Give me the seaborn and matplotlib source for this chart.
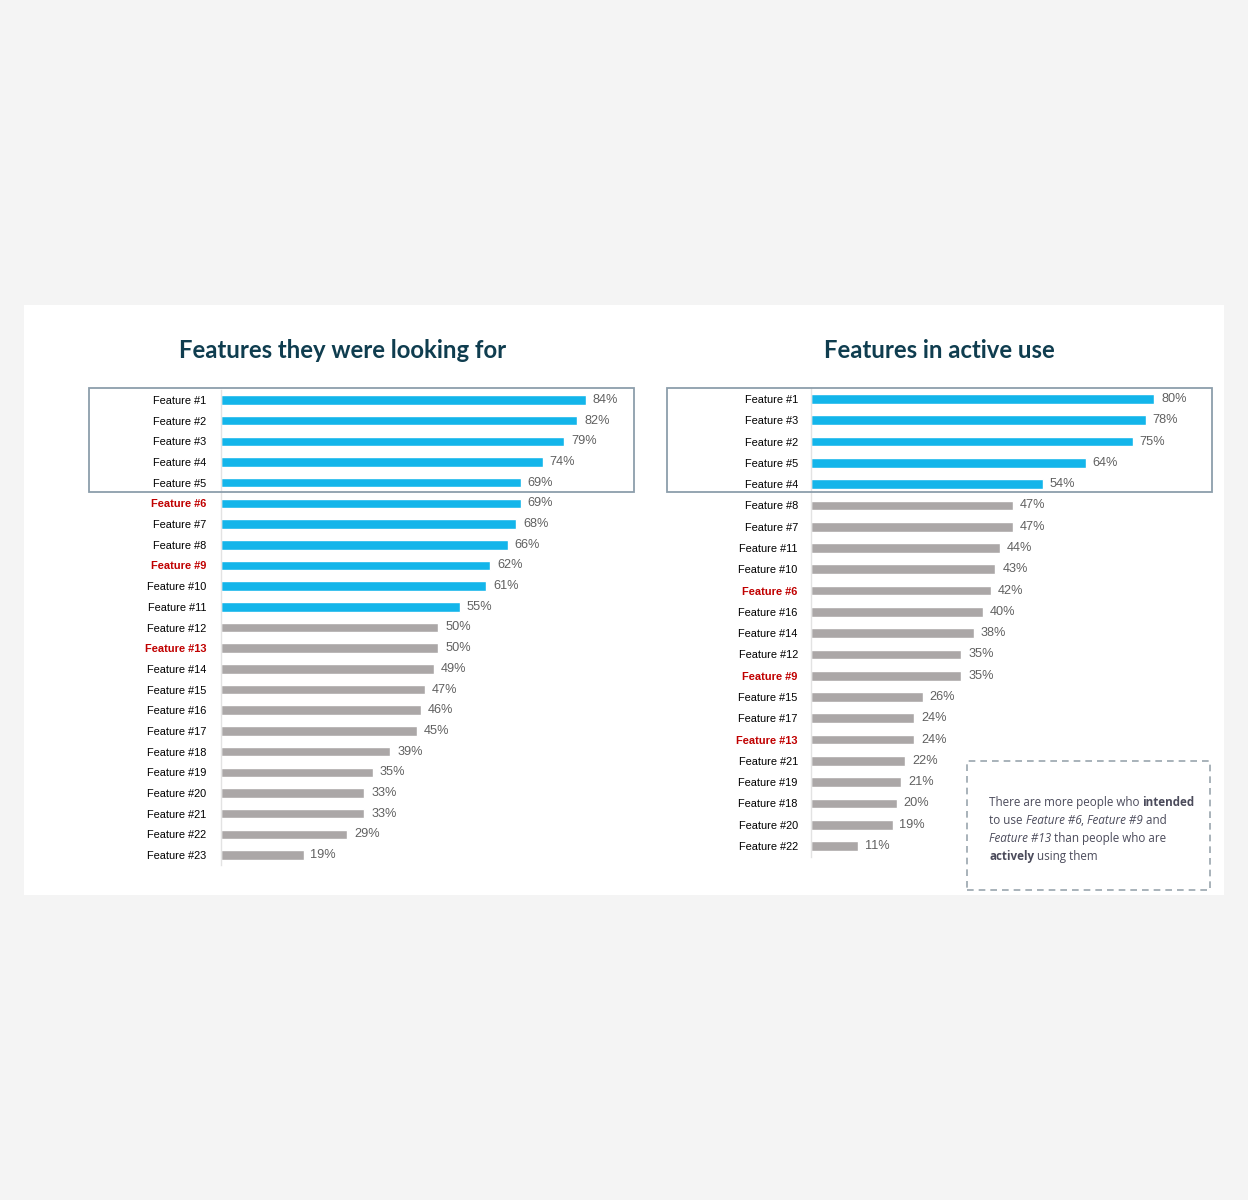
import matplotlib
matplotlib.use("Agg")
import matplotlib.pyplot as plt
import matplotlib.patches as mpatches
import seaborn as sb
import pandas as pd

# ------------------ Datos ------------------
looking_labels = ["Feature #1", "Feature #2", "Feature #3", "Feature #4", "Feature #5",
                  "Feature #6", "Feature #7", "Feature #8", "Feature #9", "Feature #10",
                  "Feature #11", "Feature #12", "Feature #13", "Feature #14", "Feature #15",
                  "Feature #16", "Feature #17", "Feature #18", "Feature #19", "Feature #20",
                  "Feature #21", "Feature #22", "Feature #23"]
looking_values = [84, 82, 79, 74, 69, 69, 68, 66, 62, 61, 55, 50, 50, 49, 47, 46, 45,
                  39, 35, 33, 33, 29, 19]
looking_n_blue = 11

active_labels = ["Feature #1", "Feature #3", "Feature #2", "Feature #5", "Feature #4",
                 "Feature #8", "Feature #7", "Feature #11", "Feature #10", "Feature #6",
                 "Feature #16", "Feature #14", "Feature #12", "Feature #9", "Feature #15",
                 "Feature #17", "Feature #13", "Feature #21", "Feature #19", "Feature #18",
                 "Feature #20", "Feature #22"]
active_values = [80, 78, 75, 64, 54, 47, 47, 44, 43, 42, 40, 38, 35, 35, 26, 24, 24,
                 22, 21, 20, 19, 11]
active_n_blue = 5

highlight = ["Feature #6", "Feature #9", "Feature #13"]

title_left = "Features they were looking for"
title_right = "Features in active use"

# Colores
BLUE = "#13b5ea"
GRAY = "#aba7a7"
RED = "#c00000"
TITLE = "#0f3d4f"
VALUE = "#606060"
BOX = "#8c9eab"

W, H = 1248, 1200


def fx(x):
    return x / W


def fy(y):
    return 1 - y / H


def add_axes_px(fig, left, top, right, bottom):
    return fig.add_axes([fx(left), fy(bottom), (right - left) / W, (bottom - top) / H])


def draw_bars(ax, labels, values, n_blue, pad_pt):
    df = pd.DataFrame({"Feature": labels, "Valor": values})
    colors = [BLUE if i < n_blue else GRAY for i in range(len(labels))]
    sb.barplot(data=df, x="Valor", y="Feature", hue="Feature", palette=colors,
               legend=False, width=0.46, orient="h", saturation=1, ax=ax)
    for c in ax.containers:
        ax.bar_label(c, fmt="%d%%", padding=5, color=VALUE, fontsize=9.2,
                     family="Liberation Sans")
    ax.set_xlim(0, 100)
    ax.set_xlabel("")
    ax.set_ylabel("")
    ax.set_xticks([])
    ax.tick_params(axis="y", length=0, pad=pad_pt)
    for t in ax.get_yticklabels():
        t.set_family("Liberation Sans")
        t.set_fontsize(7.9)
        if t.get_text() in highlight:
            t.set_color(RED)
            t.set_fontweight("bold")
        else:
            t.set_color("black")
    for s in ["top", "right", "bottom"]:
        ax.spines[s].set_visible(False)
    ax.spines["left"].set_color("#e3e3e3")
    ax.spines["left"].set_linewidth(1)
    ax.set_facecolor("none")


def rich_line(fig, x, y, pieces, size=8.4, color="#4b4b5b"):
    renderer = fig.canvas.get_renderer()
    cur = x
    for txt, weight, style in pieces:
        t = fig.text(fx(cur), fy(y), txt, fontsize=size, color=color, family="Open Sans",
                     fontweight=weight, fontstyle=style, va="baseline", ha="left")
        bb = t.get_window_extent(renderer=renderer)
        cur += bb.width


sb.set_style("white")
fig = plt.figure(figsize=(W / 100, H / 100), dpi=100)
fig.patch.set_facecolor("#f4f4f4")

# Panel blanco
fig.patches.append(mpatches.Rectangle((fx(24), fy(895)), 1200 / W, 590 / H,
                                      transform=fig.transFigure, facecolor="white",
                                      edgecolor="none", zorder=-5))

# ------------------ Grafica izquierda ------------------
step_l = (855 - 400) / 22
ax1 = add_axes_px(fig, 221, 400 - step_l / 2, 221 + 4.345 * 100, 855 + step_l / 2)
draw_bars(ax1, looking_labels, looking_values, looking_n_blue, 10.5)

# ------------------ Grafica derecha ------------------
step_r = (846 - 399) / 21
ax2 = add_axes_px(fig, 811, 399 - step_r / 2, 811 + 4.29 * 100, 846 + step_r / 2)
draw_bars(ax2, active_labels, active_values, active_n_blue, 9.5)

# Titulos
fig.text(fx(343), fy(351), title_left, fontsize=17.2, fontweight="bold", color=TITLE,
         family="Lato", ha="center", va="center")
fig.text(fx(939), fy(351), title_right, fontsize=17.2, fontweight="bold", color=TITLE,
         family="Lato", ha="center", va="center")

# Recuadros top 5
for left, right in [(89, 634), (667, 1212)]:
    fig.patches.append(mpatches.Rectangle((fx(left), fy(492)), (right - left) / W, 104 / H,
                                          transform=fig.transFigure, fill=False,
                                          edgecolor=BOX, linewidth=1.3, zorder=5))

# Nota
fig.patches.append(mpatches.Rectangle((fx(967), fy(890)), 243 / W, 129 / H,
                                      transform=fig.transFigure, fill=False,
                                      edgecolor="#9aa6ae", linewidth=1.2,
                                      linestyle=(0, (4, 3)), zorder=5))
rich_line(fig, 989, 806, [("There are more people who ", "normal", "normal"),
                          ("intended", "bold", "normal")])
rich_line(fig, 989, 824, [("to use ", "normal", "normal"),
                          ("Feature #6", "normal", "italic"),
                          (", ", "normal", "normal"),
                          ("Feature #9", "normal", "italic"),
                          (" and", "normal", "normal")])
rich_line(fig, 989, 842, [("Feature #13", "normal", "italic"),
                          (" than people who are", "normal", "normal")])
rich_line(fig, 989, 860, [("actively", "bold", "normal"),
                          (" using them", "normal", "normal")])

fig.savefig("out.png", dpi=100, facecolor=fig.get_facecolor())
